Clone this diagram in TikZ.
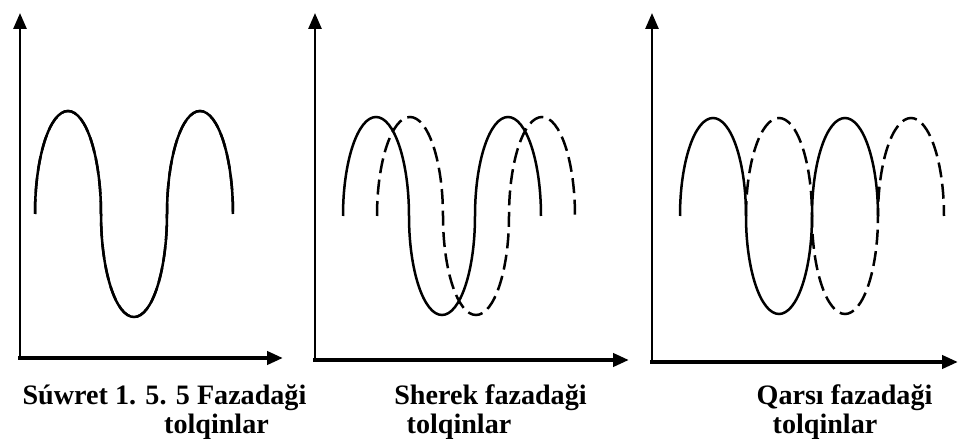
\documentclass[tikz,border=0pt]{standalone}
\usepackage{fontspec}
\setmainfont{Liberation Serif}
\usetikzlibrary{arrows.meta}

\begin{document}
\begin{tikzpicture}[x=0.2mm,y=-0.2mm,
		axis/.style={line width=0.55mm,line cap=rect,-{Triangle[length=3.2mm,width=2.6mm]}},
		xaxis/.style={axis,line width=0.8mm},
		wave/.style={line width=0.5mm,x radius=33},
		shiftwave/.style={wave,dash pattern=on 3mm off 1.3mm},
		caption/.style={anchor=base,inner sep=0pt,font=\fontsize{16}{19}\selectfont\bfseries}]
			
			\useasboundingbox (0,0) rectangle (959,441);
			
			\coordinate (o1) at (20,358);
			\coordinate (y1) at (20,13);
			\coordinate (x1) at (283,358);
			\coordinate (o2) at (315,360);
			\coordinate (y2) at (315,13);
			\coordinate (x2) at (629,360);
			\coordinate (o3) at (652,362);
			\coordinate (y3) at (652,13);
			\coordinate (x3) at (958,362);
			
			\draw[axis] (o1) -- (y1);
			\draw[xaxis] (o1) -- (x1);
			\draw[axis] (o2) -- (y2);
			\draw[xaxis] (o2) -- (x2);
			\draw[axis] (o3) -- (y3);
			\draw[xaxis] (o3) -- (x3);
			
			\coordinate (s1) at (35,214);
			\coordinate (s2) at (343,216);
			\coordinate (d2) at (377,216);
			\coordinate (s3) at (680,216);
			\coordinate (d3) at (746,216);
			
			\draw[wave,y radius=103] (s1) arc[start angle=180,end angle=360] arc[start angle=180,end angle=0] arc[start angle=180,end angle=360];
			\draw[shiftwave,y radius=103] (s1) arc[start angle=180,end angle=360] arc[start angle=180,end angle=0] arc[start angle=180,end angle=360];
			
			\draw[wave,y radius=99] (s2) arc[start angle=180,end angle=360] arc[start angle=180,end angle=0] arc[start angle=180,end angle=360];
			\draw[shiftwave,y radius=99] (d2) arc[start angle=180,end angle=360] arc[start angle=180,end angle=0] arc[start angle=180,end angle=360];
			
			\draw[wave,y radius=98] (s3) arc[start angle=180,end angle=360] arc[start angle=180,end angle=0] arc[start angle=180,end angle=360];
			\draw[shiftwave,y radius=98] (d3) arc[start angle=180,end angle=360] arc[start angle=180,end angle=0] arc[start angle=180,end angle=360];
			
			\node[caption] (c1) at (164.5,405) {Súwret 1. 5. 5 Fazadaği};
			\node[caption] (t1) at (216.5,434) {tolqinlar};
			\node[caption] (c2) at (490.5,405) {Sherek fazadaği};
			\node[caption] (t2) at (459,434) {tolqinlar};
			\node[caption] (c3) at (844.5,405) {Qarsı fazadaği};
			\node[caption] (t3) at (825,434) {tolqinlar};
			
		\end{tikzpicture}
\end{document}
